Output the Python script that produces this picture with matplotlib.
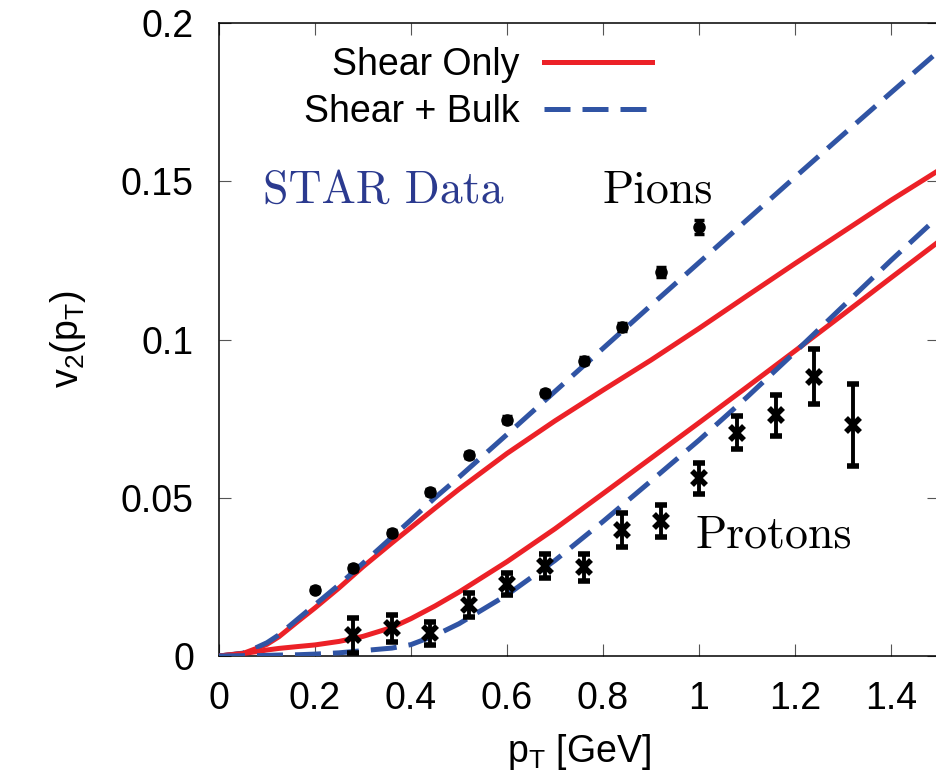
import numpy as np
import matplotlib
matplotlib.use("Agg")
import matplotlib.pyplot as plt

plt.rcParams['font.family'] = ['Liberation Sans', 'DejaVu Sans']
plt.rcParams['mathtext.default'] = 'regular'

# model curves
pt = [0.0, 0.05, 0.08, 0.1, 0.125, 0.165, 0.2, 0.25, 0.3, 0.36, 0.4, 0.45, 0.5,
      0.6, 0.7, 0.8, 0.9, 1.0, 1.1, 1.2, 1.3, 1.4, 1.5]
pion_shear = [0.0, 0.0008, 0.0025, 0.0037, 0.0061, 0.0110, 0.0152, 0.0215, 0.0282,
              0.0357, 0.0406, 0.0467, 0.0527, 0.0640, 0.0743, 0.0840, 0.0935, 0.1035,
              0.1138, 0.1240, 0.1340, 0.1440, 0.1535]
pion_bulk = [0.0, 0.0009, 0.0028, 0.0042, 0.0067, 0.0118, 0.0162, 0.0225, 0.0293,
             0.0375, 0.0430, 0.0500, 0.0565, 0.0700, 0.0836, 0.0972, 0.1108, 0.1243,
             0.1378, 0.1513, 0.1647, 0.1780, 0.1912]
proton_shear = [0.0, 0.0008, 0.0014, 0.0019, 0.0024, 0.0030, 0.0035, 0.0046, 0.0062,
                0.0090, 0.0118, 0.0158, 0.0202, 0.0298, 0.0402, 0.0513, 0.0625, 0.0737,
                0.0850, 0.0964, 0.1079, 0.1195, 0.1310]
proton_bulk = [0.0, 0.0001, 0.0001, 0.0002, 0.0003, 0.0004, 0.0006, 0.0010, 0.0017,
               0.0025, 0.0036, 0.0065, 0.0102, 0.0193, 0.0302, 0.0425, 0.0553, 0.0682,
               0.0818, 0.0960, 0.1105, 0.1250, 0.1390]

# STAR data
pion_pt = [0.2, 0.28, 0.36, 0.44, 0.52, 0.6, 0.68, 0.76, 0.84, 0.92, 1.0]
pion_v2 = [0.0209, 0.0278, 0.0390, 0.0519, 0.0635, 0.0747, 0.0830, 0.0933, 0.1040, 0.1213, 0.1355]
pion_err = [0.0008, 0.0008, 0.0008, 0.0009, 0.0009, 0.0010, 0.0010, 0.0011, 0.0013, 0.0017, 0.0022]

proton_pt = [0.28, 0.36, 0.44, 0.52, 0.6, 0.68, 0.76, 0.84, 0.92, 1.0, 1.08, 1.16, 1.24, 1.32]
proton_v2 = [0.0066, 0.0087, 0.0072, 0.0161, 0.0227, 0.0284, 0.0280, 0.0398, 0.0427,
             0.0561, 0.0706, 0.0761, 0.0883, 0.0730]
proton_err = [0.0055, 0.0043, 0.0037, 0.0037, 0.0034, 0.0038, 0.0043, 0.0053, 0.0050,
              0.0048, 0.0052, 0.0065, 0.0086, 0.0130]

xticks = [0, 0.2, 0.4, 0.6, 0.8, 1.0, 1.2, 1.4]
xticklabels = ['0', '0.2', '0.4', '0.6', '0.8', '1', '1.2', '1.4']
yticks = [0, 0.05, 0.1, 0.15, 0.2]
yticklabels = ['0', '0.05', '0.1', '0.15', '0.2']

red = '#ec2127'
blue = '#3054a4'

fig = plt.figure(figsize=(9.36, 7.76), dpi=100)
W, H = 936, 776
ax = fig.add_axes([219 / W, 120 / H, 720 / W, 633 / H])

ax.plot(pt, pion_shear, color=red, lw=3.6, label='Shear Only', zorder=3)
ax.plot(pt, pion_bulk, color=blue, lw=3.6, dashes=(5.2, 2.4), label='Shear + Bulk', zorder=3)
ax.plot(pt, proton_shear, color=red, lw=3.6, zorder=3)
ax.plot(pt, proton_bulk, color=blue, lw=3.6, dashes=(5.2, 2.4), zorder=3)

ax.errorbar(pion_pt, pion_v2, yerr=pion_err, fmt='o', color='black', ms=8,
            elinewidth=2.5, capsize=3.5, capthick=2.5, zorder=4)
ax.errorbar(proton_pt, proton_v2, yerr=proton_err, fmt='x', color='black', ms=10,
            mew=4, elinewidth=2.8, capsize=4.3, capthick=2.8, zorder=4)

ax.text(0.0917, 0.1431, 'STAR Data', family='cmr10', fontsize=33, color='#2b3a8f')
ax.text(0.80, 0.1434, 'Pions', family='cmr10', fontsize=33, color='black')
ax.text(0.992, 0.0344, 'Protons', family='cmr10', fontsize=33, color='black')

ax.set_xlim(0, 1.5)
ax.set_ylim(0, 0.2)
ax.set_xticks(xticks)
ax.set_xticklabels(xticklabels)
ax.set_yticks(yticks)
ax.set_yticklabels(yticklabels)
ax.tick_params(direction='in', length=8.5, width=0.8, color='#555555',
               labelsize=27, pad=18, top=True, right=True)
for s in ax.spines.values():
    s.set_linewidth(1.1)

ax.set_xlabel('p$_T$ [GeV]', fontsize=27, labelpad=11)
ax.set_ylabel('v$_2$(p$_T$)', fontsize=27, labelpad=24)

leg = ax.legend(loc='upper right', bbox_to_anchor=(0.602, 0.962), frameon=False,
                markerfirst=False, fontsize=27, handlelength=2.9, handletextpad=0.65,
                labelspacing=0.3, borderaxespad=0, borderpad=0)

fig.savefig('out.png', dpi=100)
